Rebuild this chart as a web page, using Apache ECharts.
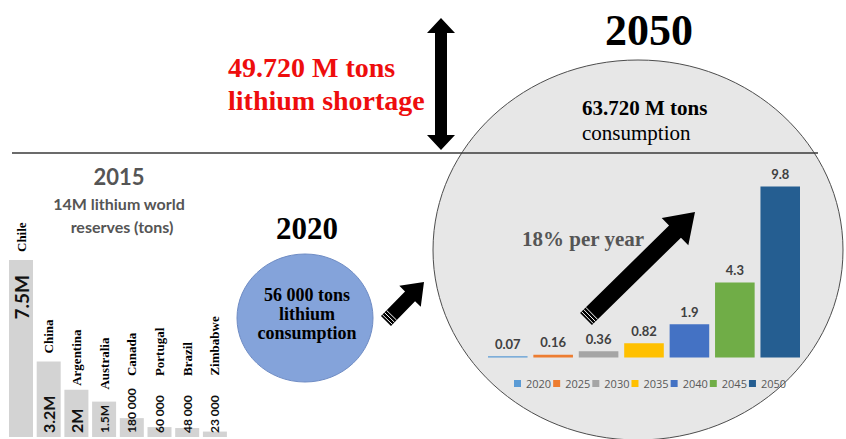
<!DOCTYPE html>
<html>
<head>
<meta charset="utf-8">
<script src="https://cdn.jsdelivr.net/npm/echarts@6/dist/echarts.min.js"></script>
<style>
html,body{margin:0;padding:0;background:#fff;}
#chart{width:846px;height:439px;}
</style>
</head>
<body>
<div id="chart"></div>
<script>
// ---- Data ----
var reserveCountries = ['Chile', 'China', 'Argentina', 'Australia', 'Canada', 'Portugal', 'Brazil', 'Zimbabwe'];
var reserveLabels = ['7.5M', '3.2M', '2M', '1.5M', '180 000', '60 000', '48 000', '23 000'];
// bar heights as drawn in the picture (M tons scale; small reserves are drawn enlarged)
var reserveDrawn = [7.5, 3.2, 2.0, 1.5, 0.8, 0.42, 0.38, 0.23];

var growthYears = ['2020', '2025', '2030', '2035', '2040', '2045', '2050'];
var growthValues = [0.07, 0.16, 0.36, 0.82, 1.9, 4.3, 9.8];
var growthColors = ['#5b9bd5', '#ed7d31', '#a5a5a5', '#ffc000', '#4472c4', '#70ad47', '#255e91'];

var SERIF = '"Liberation Serif", "Times New Roman", serif';
var SANS = 'Lato, "Open Sans", sans-serif';

// label styling per reserve bar (style only)
var valueFont = [19, 16, 16, 12, 12, 12, 12, 12];
var nameDist = [8, 8, 4, 12, 42, 51, 52, 56];

function arrowPts(tx, ty, hx, hy, sw, hw, hl) {
  var dx = hx - tx, dy = hy - ty, L = Math.hypot(dx, dy);
  var ux = dx / L, uy = dy / L, px = -uy, py = ux;
  var bx = hx - ux * hl, by = hy - uy * hl;
  return [
    [tx + px * sw / 2, ty + py * sw / 2],
    [bx + px * sw / 2, by + py * sw / 2],
    [bx + px * hw / 2, by + py * hw / 2],
    [hx, hy],
    [bx - px * hw / 2, by - py * hw / 2],
    [bx - px * sw / 2, by - py * sw / 2],
    [tx - px * sw / 2, ty - py * sw / 2]
  ];
}
function tailStripes(tx, ty, hx, hy, sw, offs) {
  var dx = hx - tx, dy = hy - ty, L = Math.hypot(dx, dy);
  var ux = dx / L, uy = dy / L, px = -uy, py = ux;
  return offs.map(function (o) {
    var cx = tx + ux * o, cy = ty + uy * o;
    return {
      type: 'line', z: 11,
      shape: { x1: cx + px * sw / 2, y1: cy + py * sw / 2, x2: cx - px * sw / 2, y2: cy - py * sw / 2 },
      style: { stroke: '#ffffff', lineWidth: 1 }
    };
  });
}
function txt(t, x, y, font, fill, align) {
  return {
    type: 'text', z: 12,
    style: {
      text: t, x: x, y: y, font: font, fill: fill,
      textAlign: align || 'center', align: align || 'center',
      textVerticalAlign: 'middle', verticalAlign: 'middle'
    }
  };
}

// double arrow (vertical)
var dax = 441, dTop = 18, dBot = 150, dsw = 12, dhw = 28, dhl = 15;
var doubleArrow = [
  [dax, dTop], [dax + dhw / 2, dTop + dhl], [dax + dsw / 2, dTop + dhl],
  [dax + dsw / 2, dBot - dhl], [dax + dhw / 2, dBot - dhl], [dax, dBot],
  [dax - dhw / 2, dBot - dhl], [dax - dsw / 2, dBot - dhl], [dax - dsw / 2, dTop + dhl],
  [dax - dhw / 2, dTop + dhl]
];

var graphics = [
  { type: 'ellipse', z: 0, shape: { cx: 638, cy: 250, rx: 205, ry: 190 },
    style: { fill: '#e7e7e7', stroke: '#4d4d4d', lineWidth: 1 } },
  { type: 'ellipse', z: 1, shape: { cx: 305, cy: 318, rx: 68, ry: 64 },
    style: { fill: '#84a3da', stroke: '#6f8cc4', lineWidth: 1 } },
  { type: 'line', z: 5, shape: { x1: 12, y1: 153, x2: 818, y2: 153 },
    style: { stroke: '#3a3a3a', lineWidth: 1.5 } },
  { type: 'polygon', z: 10, shape: { points: doubleArrow }, style: { fill: '#000' } },
  { type: 'polygon', z: 10, shape: { points: arrowPts(386, 321, 424, 282, 14, 30, 20) }, style: { fill: '#000' } },
  { type: 'polygon', z: 10, shape: { points: arrowPts(586, 319, 695, 212, 17, 38, 28) }, style: { fill: '#000' } },
  txt('49.720 M tons', 228, 67, 'bold 28px ' + SERIF, '#ee0d0d', 'left'),
  txt('lithium shortage', 228, 100, 'bold 28px ' + SERIF, '#ee0d0d', 'left'),
  txt('2050', 649, 30, 'bold 44px ' + SERIF, '#000'),
  txt('63.720 M tons', 582, 108, 'bold 21px ' + SERIF, '#000', 'left'),
  txt('consumption', 582, 133, '21px ' + SERIF, '#000', 'left'),
  txt('2015', 119, 176, 'bold 22px ' + SANS, '#555'),
  txt('14M lithium world', 119, 203, 'bold 16px ' + SANS, '#555'),
  txt('reserves (tons)', 122, 226, 'bold 16px ' + SANS, '#555'),
  txt('2020', 307, 228, 'bold 31px ' + SERIF, '#000'),
  txt('56 000 tons', 307, 295, 'bold 18px ' + SERIF, '#000'),
  txt('lithium', 307, 314, 'bold 18px ' + SERIF, '#000'),
  txt('consumption', 307, 333, 'bold 18px ' + SERIF, '#000'),
  txt('18% per year', 522, 239, 'bold 21px ' + SERIF, '#555', 'left')
].concat(tailStripes(386, 321, 424, 282, 14, [2, 5, 8]))
 .concat(tailStripes(586, 319, 695, 212, 17, [2, 5, 8]));

// ---- reserve bar series ----
var reserveData = reserveDrawn.map(function (v, i) {
  var lab;
  if (i === 0) {
    lab = { position: 'insideTop', distance: 15, align: 'right', fontSize: valueFont[i] };
  } else {
    lab = { position: 'insideBottom', distance: 4, align: 'left', fontSize: valueFont[i] };
  }
  return { value: v, label: lab };
});
var nameData = reserveDrawn.map(function (v, i) {
  return { value: v, label: { distance: nameDist[i] } };
});

var growthSeries = growthYears.map(function (y, i) {
  return {
    name: y, type: 'bar', xAxisIndex: 1, yAxisIndex: 1,
    data: [growthValues[i]],
    barWidth: 39.6, barGap: '14.7%',
    itemStyle: { color: growthColors[i] },
    label: { show: true, position: 'top', distance: 6, color: '#404040',
      fontFamily: SANS, fontWeight: 'bold', fontSize: 13,
      formatter: function (p) { return p.value; } },
    z: 3
  };
});

var option = {
  animation: false,
  backgroundColor: '#ffffff',
  grid: [
    { left: 7.15, width: 221.6, top: 260, bottom: 2 },
    { left: 488, width: 312, top: 183, bottom: 81.5 }
  ],
  xAxis: [
    { type: 'category', gridIndex: 0, data: reserveCountries, show: false },
    { type: 'category', gridIndex: 1, data: [''], show: false }
  ],
  yAxis: [
    { type: 'value', gridIndex: 0, min: 0, max: 7.5, show: false },
    { type: 'value', gridIndex: 1, min: 0, max: 10, show: false }
  ],
  legend: {
    data: growthYears, left: 509, top: 373, itemWidth: 7, itemHeight: 7, itemGap: 2,
    icon: 'rect', textStyle: { fontFamily: '"Open Sans", sans-serif', fontSize: 11, color: '#595959' }
  },
  graphic: graphics,
  series: [
    {
      type: 'bar', xAxisIndex: 0, yAxisIndex: 0, data: reserveData, barWidth: 24,
      itemStyle: { color: '#d3d3d3' },
      label: { show: true, rotate: 90, verticalAlign: 'middle', color: '#111',
        fontFamily: SANS, fontWeight: 'bold',
        formatter: function (p) { return reserveLabels[p.dataIndex]; } },
      z: 3
    },
    {
      type: 'bar', xAxisIndex: 0, yAxisIndex: 0, data: nameData, barWidth: 24, barGap: '-100%',
      itemStyle: { color: 'rgba(0,0,0,0)' },
      label: { show: true, position: 'top', rotate: 90, align: 'left', verticalAlign: 'middle',
        color: '#000', fontFamily: SERIF, fontWeight: 'bold', fontSize: 13,
        formatter: function (p) { return p.name; } },
      z: 4
    }
  ].concat(growthSeries)
};

var chart = echarts.init(document.getElementById('chart'), null, { renderer: 'svg' });
chart.setOption(option);
</script>
</body>
</html>
